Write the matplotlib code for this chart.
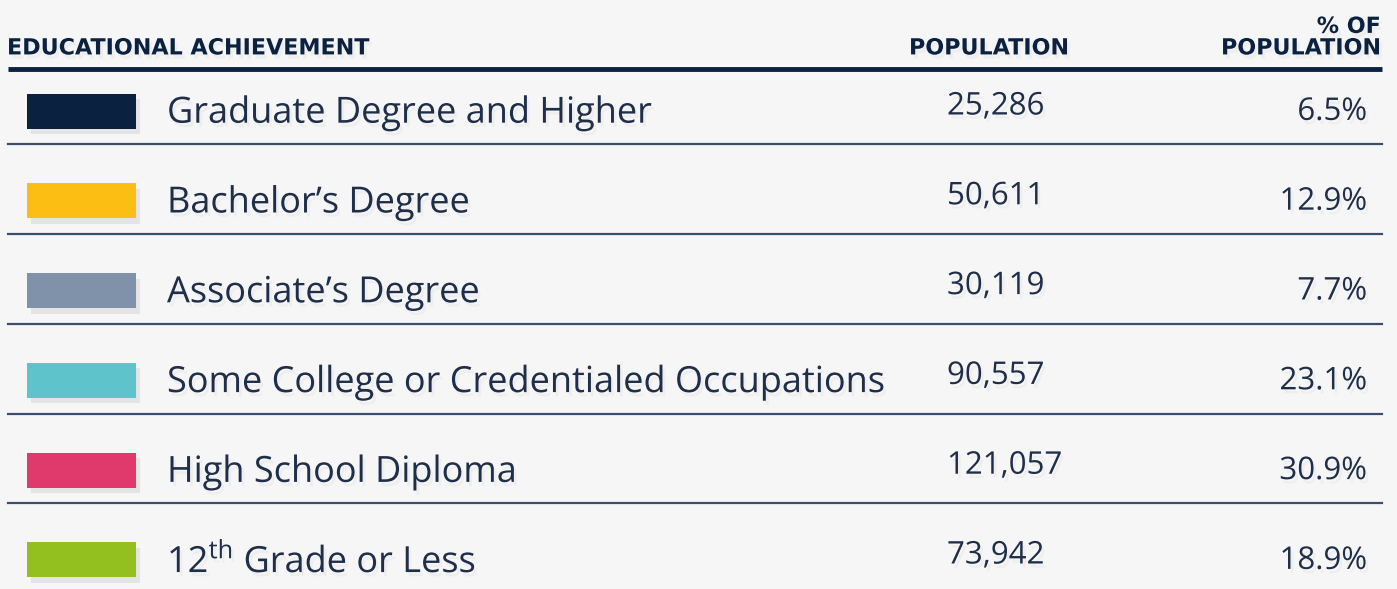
import matplotlib.pyplot as plt
import matplotlib.patheffects as pe
import numpy as np

plt.rcParams["font.family"] = ["Open Sans", "DejaVu Sans"]
plt.rcParams["mathtext.fontset"] = "custom"
plt.rcParams["mathtext.rm"] = "Open Sans"

# data
levels = [
    "Graduate Degree and Higher",
    "Bachelor\u2019s Degree",
    "Associate\u2019s Degree",
    "Some College or Credentialed Occupations",
    "High School Diploma",
    "12$^{\\mathrm{th}}$ Grade or Less",
]
population = [25286, 50611, 30119, 90557, 121057, 73942]
share = [6.5, 12.9, 7.7, 23.1, 30.9, 18.9]
colors = ["#0b2140", "#fdbe14", "#7f92aa", "#5fc3cb", "#df3a6b", "#93c01f"]

navy = "#0b2140"
text_col = "#1f2e49"
bg = "#f6f6f6"

W, H = 1397, 589
fig = plt.figure(figsize=(W / 100, H / 100), dpi=100, facecolor=bg)
ax = fig.add_axes([0, 0, 1, 1])
ax.set_facecolor(bg)
ax.set_xlim(0, W)

# rows are spaced ~90 px apart, first centre at y=111 px
top, step = 111, 89.8
ax.set_ylim((H - top) / step, -top / step)
ax.axis("off")

rows = np.arange(len(levels))
shadow = [pe.SimplePatchShadow(offset=(3, -4), shadow_rgbFace="#000000", alpha=0.07), pe.Normal()]
tshadow = [pe.SimplePatchShadow(offset=(2, -3), shadow_rgbFace="#000000", alpha=0.03), pe.Normal()]

bars = ax.barh(rows, 109, left=27, height=35 / step, color=colors, zorder=3)
for b in bars:
    b.set_path_effects(shadow)

# separators
for r in rows[:-1]:
    ax.plot([8, 1382], [r + 0.37, r + 0.37], color="#3b4f6c", lw=1.6, zorder=2)
ax.plot([8, 1382], [-0.47, -0.47], color=navy, lw=3.5, zorder=2, solid_capstyle="butt")

# header
hdr = dict(color=navy, fontsize=16, fontweight="bold", va="baseline",
           family="DejaVu Sans", path_effects=tshadow)
ax.text(7, -0.63, "EDUCATIONAL ACHIEVEMENT", ha="left", **hdr)
ax.text(909, -0.63, "POPULATION", ha="left", **hdr)
ax.text(1381, -0.63, "POPULATION", ha="right", **hdr)
ax.text(1381, -0.87, "% OF", ha="right", **hdr)

# rows
for r, lab, pop, pct in zip(rows, levels, population, share):
    ax.text(167, r + 0.03, lab, ha="left", va="center", fontsize=26,
            color=text_col, path_effects=tshadow)
    ax.text(947, r - 0.05, f"{pop:,}", ha="left", va="center", fontsize=22.5,
            color=text_col, path_effects=tshadow)
    ax.text(1367, r + 0.01, f"{pct}%", ha="right", va="center", fontsize=22.5,
            color=text_col, path_effects=tshadow)

fig.savefig("out.png", dpi=100, facecolor=bg)
